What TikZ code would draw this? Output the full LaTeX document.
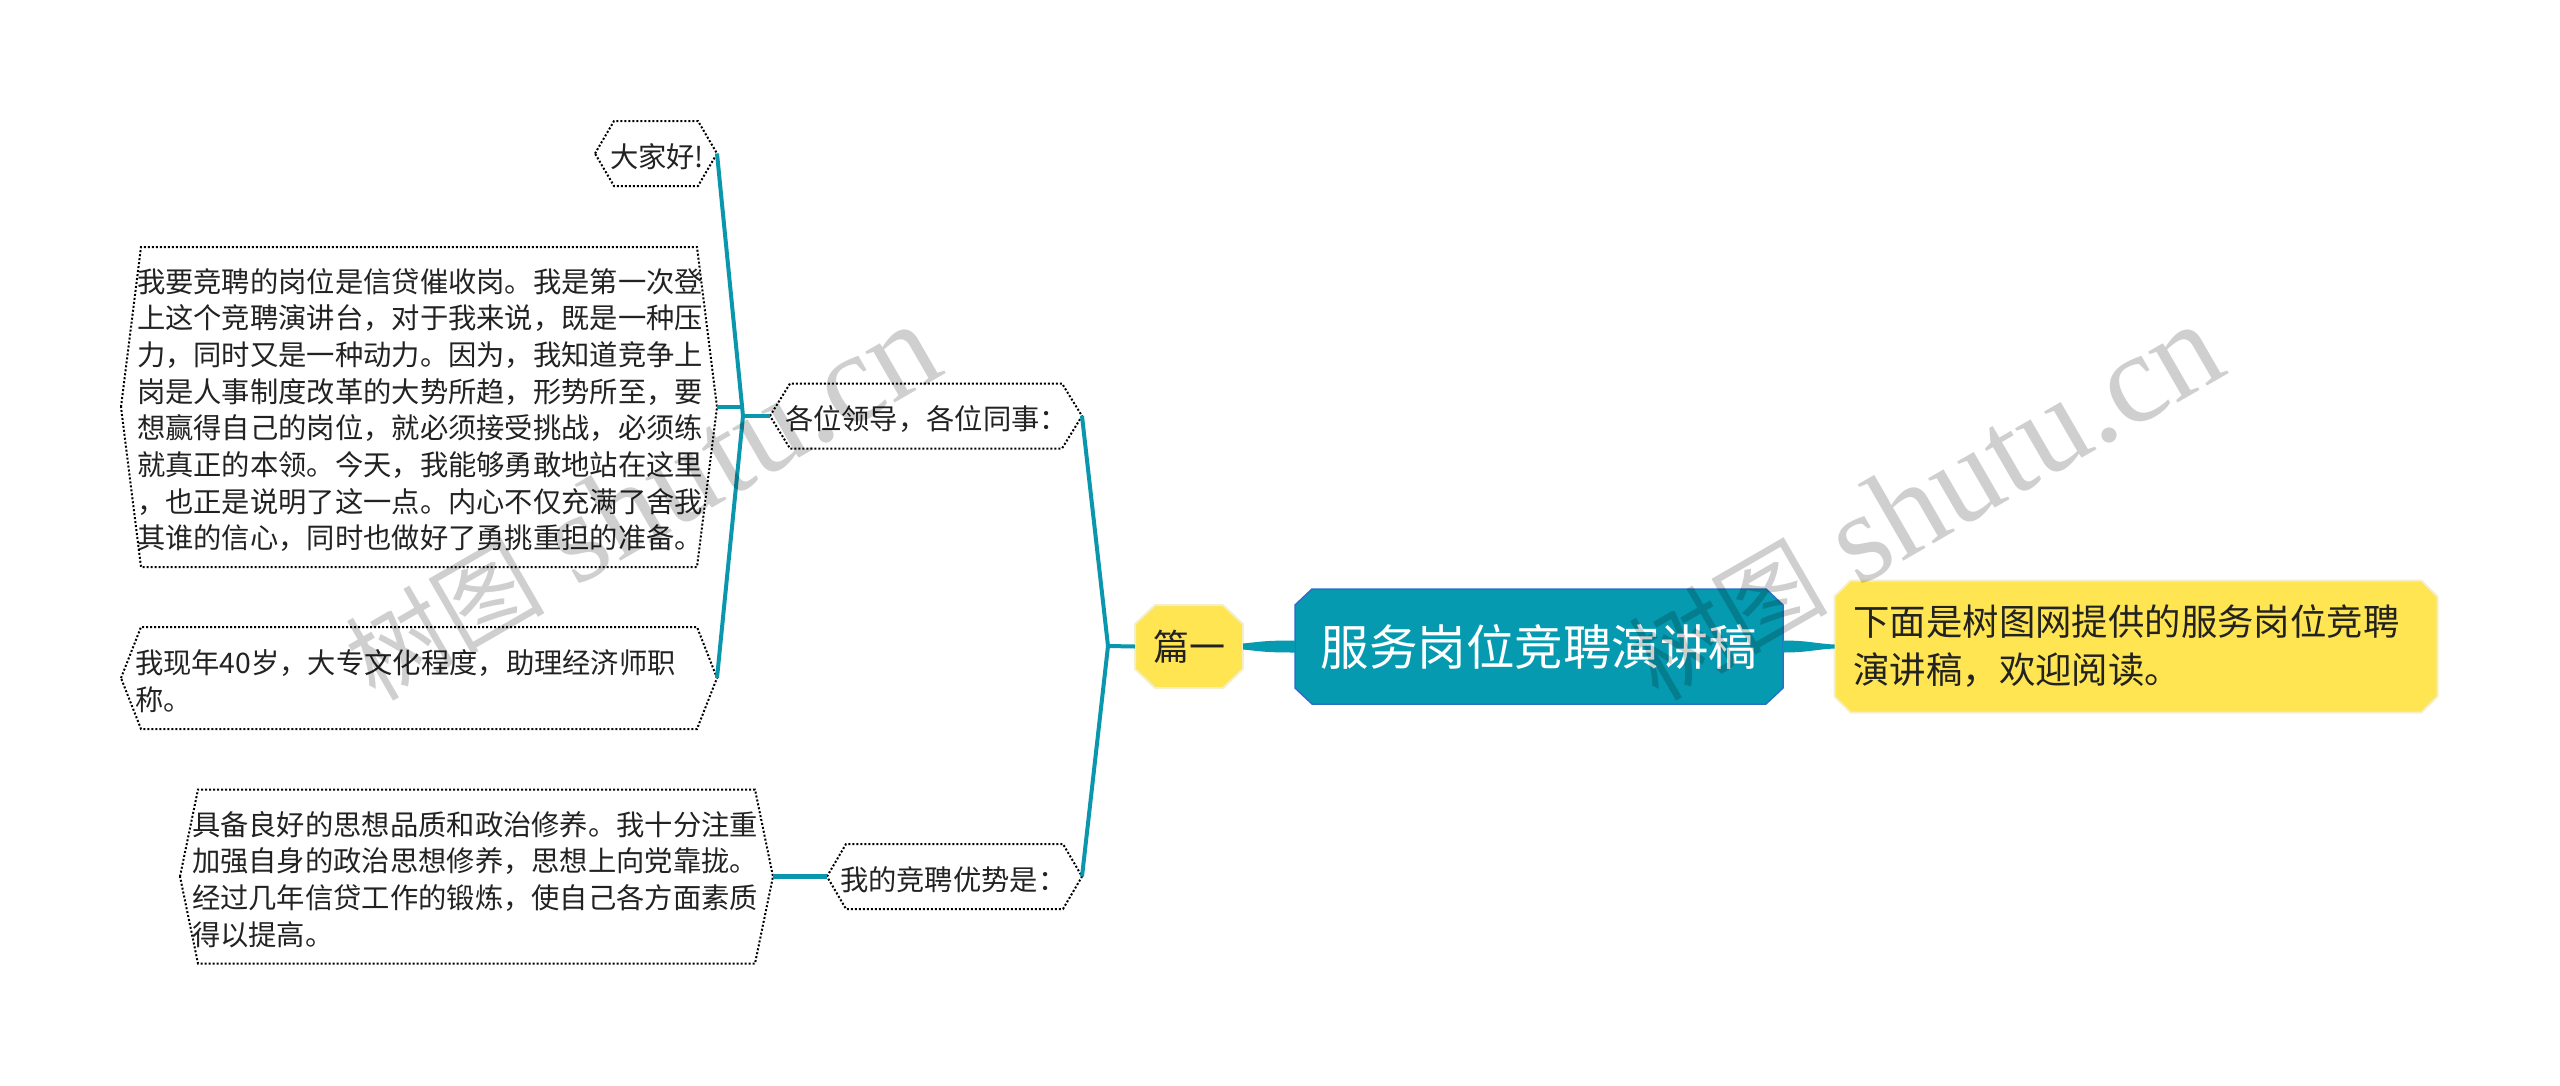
\documentclass[tikz,border=0pt]{standalone}
\usepackage{fontspec}
\setmainfont{Noto Sans CJK SC}
\newfontfamily\wmlat{Liberation Serif}
\usetikzlibrary{backgrounds}
\definecolor{tealmain}{HTML}{069AB0}
\definecolor{tealline}{HTML}{0A97AD}
\definecolor{sunny}{HTML}{FFE552}
\definecolor{sunnyedge}{HTML}{F4EFCB}
\definecolor{bluedge}{HTML}{2A6FC9}
\definecolor{inktext}{HTML}{222222}
\tikzset{
  hexbody/.style={inner sep=0pt,outer sep=0pt,align=left,text=inktext,
    font=\fontsize{28.3}{36.7}\selectfont},
  hexedge/.style={draw=black,line width=2pt,dash pattern=on 2pt off 2pt},
  link/.style={draw=tealline,line width=4pt,line cap=butt,line join=round},
  taper/.style={fill=tealmain,draw=none},
  octobox/.style={rectangle,inner sep=0pt,outer sep=0pt,align=left},
  sunnyface/.style={fill=sunny,draw=sunnyedge,line width=2pt,line join=round},
  tealface/.style={fill=tealmain,draw=bluedge,line width=1.5pt,line join=round},
  watermark/.style={text=black,opacity=0.19,rotate=30,inner sep=0pt,anchor=base west}
}
\newcommand{\wmtext}{\makebox[231pt][l]{\fontsize{100}{110}\selectfont 树图}{\fontsize{128}{130}\selectfont\wmlat shutu.cn}}
% name, cx, cy, W, H, cut, pad, text
\newcommand{\hexnode}[8]{%
  \pgfmathsetlengthmacro{\hexw}{#4*1pt}%
  \pgfmathsetlengthmacro{\hexh}{#5*1pt}%
  \pgfmathsetlengthmacro{\hext}{(#4-2*#7)*1pt}%
  \node[hexbody,minimum width=\hexw,minimum height=\hexh,text width=\hext,inner xsep=#7pt] (#1) at (#2,#3) {\rule{0pt}{30pt}#8};
  \path[hexedge] (#1.west) -- ([xshift=#6pt]#1.north west) -- ([xshift=-#6pt]#1.north east) -- (#1.east)
     -- ([xshift=-#6pt]#1.south east) -- ([xshift=#6pt]#1.south west) -- cycle;
}
% name, cutx, cuty, style
\newcommand{\octface}[4]{%
  \begin{pgfonlayer}{background}
  \path[#4] ([xshift=#2pt]#1.north west) -- ([xshift=-#2pt]#1.north east) -- ([yshift=-#3pt]#1.north east)
    -- ([yshift=#3pt]#1.south east) -- ([xshift=-#2pt]#1.south east) -- ([xshift=#2pt]#1.south west)
    -- ([yshift=#3pt]#1.south west) -- ([yshift=-#3pt]#1.north west) -- cycle;
  \end{pgfonlayer}
}
\begin{document}
\begin{tikzpicture}[x=1pt,y=-1pt]
\useasboundingbox (0,0) rectangle (2560,1085);

% junctions
\coordinate (jleft) at (743,416);
\coordinate (jright) at (1108,646);

% dotted hexagon nodes
\hexnode{hello}{656}{153.5}{122}{65}{19}{15}{大家好!}
\hexnode{post}{419}{407}{596}{320}{20}{16}{我要竞聘的岗位是信贷催收岗。我是第一次登\\上这个竞聘演讲台，对于我来说，既是一种压\\力，同时又是一种动力。因为，我知道竞争上\\岗是人事制度改革的大势所趋，形势所至，要\\想赢得自己的岗位，就必须接受挑战，必须练\\就真正的本领。今天，我能够勇敢地站在这里\\，也正是说明了这一点。内心不仅充满了舍我\\其谁的信心，同时也做好了勇挑重担的准备。}
\hexnode{age}{419}{678}{596}{102}{20}{14}{我现年40岁，大专文化程度，助理经济师职\\称。}
\hexnode{quality}{476.5}{876.5}{593}{174}{18}{12}{具备良好的思想品质和政治修养。我十分注重\\加强自身的政治思想修养，思想上向党靠拢。\\经过几年信贷工作的锻炼，使自己各方面素质\\得以提高。}
\hexnode{leaders}{926}{416}{312}{65}{20}{15}{各位领导，各位同事：}
\hexnode{merit}{954.5}{876.5}{255}{65}{19}{13}{我的竞聘优势是：}

% yellow and teal nodes
\node[octobox,minimum width=108pt,minimum height=83pt,text=inktext,
  font=\fontsize{36}{44}\selectfont] (part) at (1189,646.5) {篇一};
\octface{part}{20}{19}{sunnyface}
\node[octobox,minimum width=488pt,minimum height=115pt,text=white,
  font=\fontsize{48.5}{56}\selectfont] (title) at (1539,646.5) {服务岗位竞聘演讲稿};
\octface{title}{17}{16}{tealface}
\node[octobox,minimum width=603pt,minimum height=132pt,text=inktext,text width=565pt,
  font=\fontsize{36.4}{48}\selectfont] (intro) at (2136,646.5) {下面是树图网提供的服务岗位竞聘\\演讲稿，欢迎阅读。};
\octface{intro}{16}{16}{sunnyface}

% connectors
\draw[link] (hello.east) -- (jleft);
\draw[link] (age.east) -- (jleft);
\draw[link] (post.east) -- (jleft |- post.east);
\draw[link] (jleft) -- (leaders.west);
\draw[link] (leaders.east) -- (jright);
\draw[link] (merit.east) -- (jright);
\draw[link] (jright) -- (part.west);
\draw[link,line width=5pt] (quality.east) -- (merit.west);

% tapered connectors
\fill[taper] ([yshift=3pt]part.east) .. controls ([xshift=20pt,yshift=5pt]part.east) and ([xshift=-30pt,yshift=6pt]title.west) .. ([yshift=6pt]title.west)
  -- ([yshift=-6pt]title.west) .. controls ([xshift=-30pt,yshift=-6pt]title.west) and ([xshift=20pt,yshift=-5pt]part.east) .. ([yshift=-3pt]part.east) -- cycle;
\fill[taper] ([yshift=6pt]title.east) .. controls ([xshift=25pt,yshift=6pt]title.east) and ([xshift=-20pt,yshift=3pt]intro.west) .. ([yshift=2pt]intro.west)
  -- ([yshift=-2pt]intro.west) .. controls ([xshift=-20pt,yshift=-3pt]intro.west) and ([xshift=25pt,yshift=-6pt]title.east) .. ([yshift=-6pt]title.east) -- cycle;

% watermarks
\node[watermark] (wmone) at (375,703) {\wmtext};
\node[watermark] (wmtwo) at (1658,703) {\wmtext};
\end{tikzpicture}
\end{document}
